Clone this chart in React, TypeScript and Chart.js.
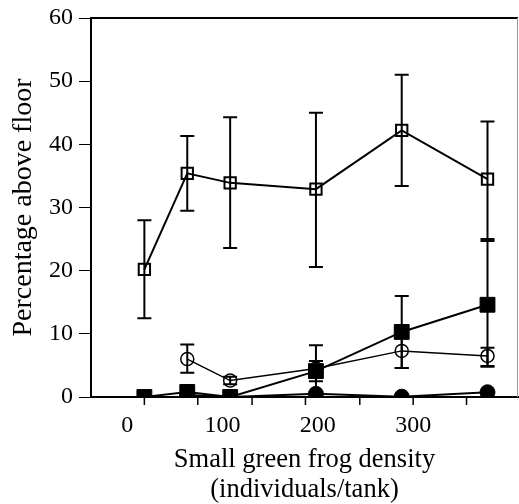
import React, { useEffect, useRef } from "react";
import { Chart, registerables } from "chart.js";

Chart.register(...registerables);

// Densities (individuals/tank)
const densityAll = [18, 63, 108, 198, 288, 378];
const densityCircles = [63, 108, 198, 288, 378];

// Open squares
const openSquareMean = [20.2, 35.4, 33.9, 32.9, 42.2, 34.5];
const openSquareLow = [12.45, 29.5, 23.6, 20.6, 33.4, 25.0];
const openSquareHigh = [28.0, 41.3, 44.3, 45.0, 51.0, 43.6];

// Filled squares
const filledSquareMean = [0, 0.8, 0, 4.1, 10.3, 14.6];
const filledSquareLow: (number | null)[] = [null, null, null, 2.5, 4.6, 4.8];
const filledSquareHigh: (number | null)[] = [null, null, null, 5.7, 16.0, 24.7];

// Open circles
const openCircleMean = [6.0, 2.6, 4.5, 7.3, 6.5];
const openCircleLow = [3.85, 2.0, 0.8, 4.6, 4.9];
const openCircleHigh = [8.3, 3.2, 8.2, 10.0, 7.8];

// Filled circles
const filledCircleMean = [0.3, 0, 0.5, 0.05, 0.75];

// Axis ticks
const xTickLabels = [0, 100, 200, 300];
const xTickMarks = [18, 74, 131, 187, 244, 300, 356];
const yTickValues = [0, 10, 20, 30, 40, 50, 60];

const FONT = "'Liberation Serif', 'Times New Roman', serif";

const pts = (xs: number[], ys: number[]) => xs.map((x, i) => ({ x, y: ys[i] }));

const errorBarPlugin = {
  id: "errorBars",
  beforeDatasetsDraw(chart: any) {
    const ctx = chart.ctx;
    const yScale = chart.scales.y;
    ctx.save();
    ctx.strokeStyle = "#000";
    ctx.lineWidth = 2;
    chart.data.datasets.forEach((ds: any, di: number) => {
      if (!ds.errLow) return;
      const meta = chart.getDatasetMeta(di);
      meta.data.forEach((el: any, i: number) => {
        const lo = ds.errLow[i];
        const hi = ds.errHigh[i];
        if (lo == null || hi == null) return;
        const x = el.x;
        const yl = yScale.getPixelForValue(lo);
        const yh = yScale.getPixelForValue(hi);
        const cap = 7;
        ctx.beginPath();
        ctx.moveTo(x, yl);
        ctx.lineTo(x, yh);
        ctx.moveTo(x - cap, yl);
        ctx.lineTo(x + cap, yl);
        ctx.moveTo(x - cap, yh);
        ctx.lineTo(x + cap, yh);
        ctx.stroke();
      });
    });
    ctx.restore();
  },
};

const framePlugin = {
  id: "frame",
  afterDraw(chart: any) {
    const { ctx, chartArea } = chart;
    const xScale = chart.scales.x;
    ctx.save();
    // top border
    ctx.strokeStyle = "#000";
    ctx.lineWidth = 2;
    ctx.beginPath();
    ctx.moveTo(chartArea.left, chartArea.top);
    ctx.lineTo(chartArea.right, chartArea.top);
    ctx.stroke();
    // right border
    ctx.strokeStyle = "#999";
    ctx.lineWidth = 1;
    ctx.beginPath();
    ctx.moveTo(chartArea.right - 0.5, chartArea.top);
    ctx.lineTo(chartArea.right - 0.5, chartArea.bottom);
    ctx.stroke();
    // x tick marks
    ctx.strokeStyle = "#000";
    ctx.lineWidth = 1.5;
    ctx.beginPath();
    xTickMarks.forEach((v) => {
      const px = xScale.getPixelForValue(v);
      ctx.moveTo(px, chartArea.bottom);
      ctx.lineTo(px, chartArea.bottom + 8);
    });
    ctx.stroke();
    ctx.restore();
  },
};

export default function App() {
  const ref = useRef<HTMLCanvasElement | null>(null);

  useEffect(() => {
    if (!ref.current) return;
    const chart = new Chart(ref.current, {
      type: "scatter",
      data: {
        datasets: [
          {
            data: pts(densityAll, openSquareMean),
            showLine: true,
            borderColor: "#000",
            borderWidth: 2,
            pointStyle: "rect",
            pointRadius: 8,
            pointBorderWidth: 2,
            pointBorderColor: "#000",
            pointBackgroundColor: "rgba(0,0,0,0)",
            errLow: openSquareLow,
            errHigh: openSquareHigh,
          } as any,
          {
            data: pts(densityAll, filledSquareMean),
            showLine: true,
            borderColor: "#000",
            borderWidth: 2,
            pointStyle: "rect",
            pointRadius: 10.5,
            pointBorderWidth: 1,
            pointBorderColor: "#000",
            pointBackgroundColor: "#000",
            errLow: filledSquareLow,
            errHigh: filledSquareHigh,
          } as any,
          {
            data: pts(densityCircles, openCircleMean),
            showLine: true,
            borderColor: "#000",
            borderWidth: 1.5,
            pointStyle: "circle",
            pointRadius: 6.5,
            pointBorderWidth: 1.5,
            pointBorderColor: "#000",
            pointBackgroundColor: "rgba(0,0,0,0)",
            errLow: openCircleLow,
            errHigh: openCircleHigh,
          } as any,
          {
            data: pts(densityCircles, filledCircleMean),
            showLine: true,
            borderColor: "#000",
            borderWidth: 2,
            pointStyle: "circle",
            pointRadius: 7.5,
            pointBorderWidth: 1,
            pointBorderColor: "#000",
            pointBackgroundColor: "#000",
          } as any,
        ],
      },
      options: {
        responsive: false,
        animation: false,
        layout: { autoPadding: false, padding: { top: 18, right: 1, left: 0, bottom: 0 } },
        plugins: {
          legend: { display: false },
          tooltip: { enabled: false },
        },
        scales: {
          x: {
            type: "linear",
            min: -38,
            max: 410,
            afterBuildTicks: (s: any) => {
              s.ticks = xTickLabels.map((v) => ({ value: v }));
            },
            afterFit: (s: any) => {
              s.height = 107;
              s.paddingLeft = 0;
              s.paddingRight = 0;
            },
            grid: { display: false, drawTicks: false },
            border: { display: true, color: "#000", width: 2 },
            ticks: {
              color: "#000",
              padding: 14.5,
              maxRotation: 0,
              font: { family: FONT, size: 24 },
            },
            title: {
              display: true,
              text: ["Small green frog density", "(individuals/tank)"],
              color: "#000",
              font: { family: FONT, size: 26.5, lineHeight: 1.132 },
              padding: { top: 0, bottom: -1.4 },
            },
          },
          y: {
            type: "linear",
            min: 0,
            max: 60,
            afterBuildTicks: (s: any) => {
              s.ticks = yTickValues.map((v) => ({ value: v }));
            },
            afterFit: (s: any) => {
              s.width = 91;
              s.paddingTop = 0;
              s.paddingBottom = 0;
            },
            grid: {
              display: true,
              drawOnChartArea: false,
              drawTicks: true,
              tickLength: 12,
              color: "#000",
              lineWidth: 1,
            },
            border: { display: true, color: "#000", width: 2 },
            ticks: {
              color: "#000",
              padding: 6,
              font: { family: FONT, size: 24 },
            },
            title: {
              display: true,
              text: "Percentage above floor",
              color: "#000",
              font: { family: FONT, size: 28, lineHeight: 1.2 },
              padding: { top: 6.7, bottom: 0 },
            },
          },
        },
      },
      plugins: [errorBarPlugin, framePlugin],
    } as any);
    return () => chart.destroy();
  }, []);

  return (
    <div style={{ position: "fixed", left: 0, top: 0, width: 519, height: 504, background: "#fff" }}>
      <canvas ref={ref} width={519} height={504} style={{ display: "block" }} />
    </div>
  );
}
